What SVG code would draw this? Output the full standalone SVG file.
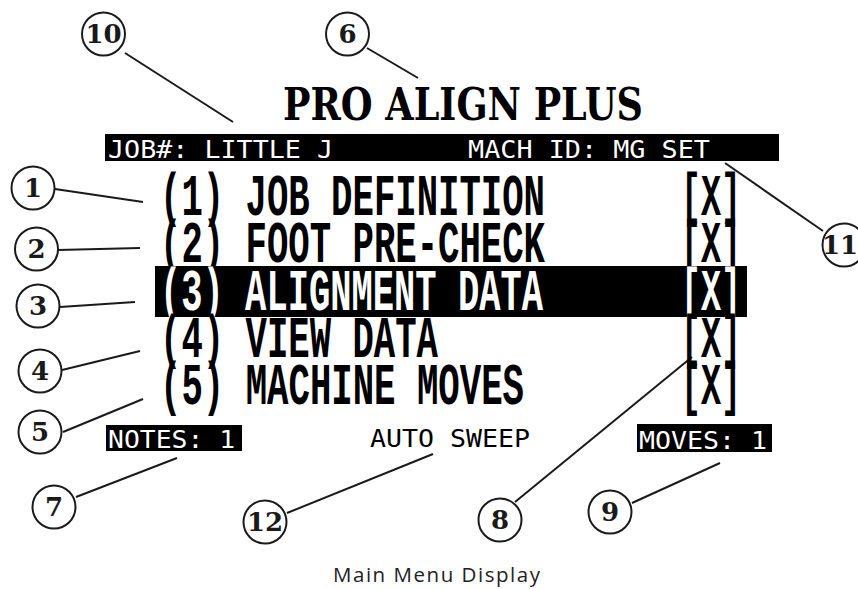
<svg xmlns="http://www.w3.org/2000/svg" width="858" height="589" viewBox="0 0 858 589">
<style>
.c{fill:#fff;stroke:#1a1a1a;stroke-width:2}
.n{font-family:"DejaVu Serif","Liberation Serif",serif;font-weight:bold;font-size:26px;fill:#1a1a1a;text-anchor:middle}
.ln{stroke:#1a1a1a;stroke-width:2;fill:none}
.row{font-family:"Liberation Mono","DejaVu Sans Mono",monospace;font-weight:bold;font-size:60px}
.lcd{font-family:"DejaVu Sans Mono","Liberation Mono",monospace;font-size:24px}
.title{font-family:"DejaVu Serif","Liberation Serif",serif;font-weight:bold;font-size:44px;fill:#000}
.cap{font-family:"Open Sans",Lato,sans-serif;font-size:20.5px;fill:#222}
</style>
<rect width="858" height="589" fill="#fff"/>
<g id="connectors">
<line class="ln" x1="125" y1="53" x2="233" y2="122"/>
<line class="ln" x1="367" y1="48" x2="418" y2="78"/>
<line class="ln" x1="725" y1="163" x2="823" y2="231"/>
<line class="ln" x1="55" y1="189" x2="143" y2="202"/>
<line class="ln" x1="58" y1="250" x2="140" y2="248"/>
<line class="ln" x1="60" y1="307" x2="135" y2="302"/>
<line class="ln" x1="62" y1="370" x2="140" y2="351"/>
<line class="ln" x1="63" y1="432" x2="143" y2="399"/>
<line class="ln" x1="76" y1="497" x2="177" y2="458"/>
<line class="ln" x1="287" y1="513" x2="433" y2="454"/>
<line class="ln" x1="515" y1="502" x2="692" y2="357"/>
<line class="ln" x1="632" y1="503" x2="720" y2="463"/>
</g>
<g id="title"><text class="title" x="283" y="120" textLength="360" lengthAdjust="spacingAndGlyphs">PRO ALIGN PLUS</text></g>
<g id="header">
<rect x="105" y="134" width="674" height="27" fill="#000"/>
<text class="lcd" x="108" y="158" fill="#fff" textLength="225" lengthAdjust="spacingAndGlyphs">JOB#: LITTLE J</text>
<text class="lcd" x="468" y="158" fill="#fff" textLength="242" lengthAdjust="spacingAndGlyphs">MACH ID: MG SET</text>
</g>
<g id="menu">
<rect x="155" y="266" width="592" height="51" fill="#000"/>
<text class="row" x="160" y="215" textLength="385" lengthAdjust="spacingAndGlyphs">(1) JOB DEFINITION</text>
<text class="row" x="160" y="262" textLength="385" lengthAdjust="spacingAndGlyphs">(2) FOOT PRE-CHECK</text>
<text class="row" x="160" y="310" fill="#fff" textLength="383" lengthAdjust="spacingAndGlyphs">(3) ALIGNMENT DATA</text>
<text class="row" x="160" y="357" textLength="278" lengthAdjust="spacingAndGlyphs">(4) VIEW DATA</text>
<text class="row" x="160" y="404" textLength="364" lengthAdjust="spacingAndGlyphs">(5) MACHINE MOVES</text>
<text class="row" x="681" y="215" textLength="60" lengthAdjust="spacingAndGlyphs">[X]</text>
<text class="row" x="681" y="262" textLength="60" lengthAdjust="spacingAndGlyphs">[X]</text>
<text class="row" x="681" y="310" fill="#fff" textLength="60" lengthAdjust="spacingAndGlyphs">[X]</text>
<text class="row" x="681" y="357" textLength="60" lengthAdjust="spacingAndGlyphs">[X]</text>
<text class="row" x="681" y="404" textLength="60" lengthAdjust="spacingAndGlyphs">[X]</text>
</g>
<g id="status">
<rect x="106" y="425" width="136" height="26" fill="#000"/>
<text class="lcd" x="108" y="448" fill="#fff" textLength="127" lengthAdjust="spacingAndGlyphs">NOTES: 1</text>
<text class="lcd" x="370" y="447" fill="#000" textLength="160" lengthAdjust="spacingAndGlyphs">AUTO SWEEP</text>
<rect x="637" y="424" width="135" height="28" fill="#000"/>
<text class="lcd" x="639" y="449" fill="#fff" textLength="128" lengthAdjust="spacingAndGlyphs">MOVES: 1</text>
</g>
<g id="c10"><circle class="c" cx="103.5" cy="34" r="21.5"/><text class="n" x="103.5" y="43">10</text></g>
<g id="c6"><circle class="c" cx="347.5" cy="34" r="21.5"/><text class="n" x="347.5" y="43">6</text></g>
<g id="c11"><circle class="c" cx="844" cy="245" r="21.5"/><text class="n" x="840" y="254">11</text></g>
<g id="c1"><circle class="c" cx="33" cy="188" r="21.5"/><text class="n" x="33" y="197">1</text></g>
<g id="c2"><circle class="c" cx="36.5" cy="249" r="21.5"/><text class="n" x="36.5" y="258">2</text></g>
<g id="c3"><circle class="c" cx="38" cy="306" r="21.5"/><text class="n" x="38" y="315">3</text></g>
<g id="c4"><circle class="c" cx="40" cy="371" r="21.5"/><text class="n" x="40" y="380">4</text></g>
<g id="c5"><circle class="c" cx="40" cy="432" r="21.5"/><text class="n" x="40" y="441">5</text></g>
<g id="c7"><circle class="c" cx="54" cy="507" r="21.5"/><text class="n" x="54" y="516">7</text></g>
<g id="c12"><circle class="c" cx="265" cy="522" r="21.5"/><text class="n" x="265" y="531">12</text></g>
<g id="c8"><circle class="c" cx="500" cy="520" r="21.5"/><text class="n" x="500" y="529">8</text></g>
<g id="c9"><circle class="c" cx="610" cy="512" r="21.5"/><text class="n" x="610" y="521">9</text></g>
<g id="caption"><text class="cap" x="333" y="582" textLength="207">Main Menu Display</text></g>
</svg>
